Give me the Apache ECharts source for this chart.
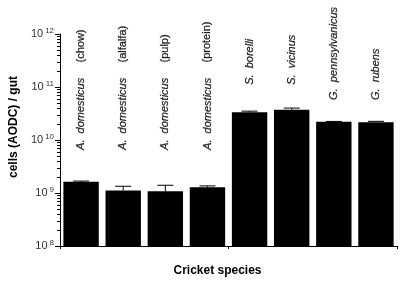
<!DOCTYPE html>
<html>
<head>
<meta charset="utf-8">
<script src="https://cdn.jsdelivr.net/npm/echarts@6/dist/echarts.min.js"></script>
<style>
  html, body { margin: 0; padding: 0; background: #fff; }
  #chart { width: 400px; height: 282px; }
</style>
</head>
<body>
<div id="chart"></div>
<script>
// species shown on the x axis, first part italic, second part (diet) upright
const genus = ['A.', 'A.', 'A.', 'A.', 'S.', 'S.', 'G.', 'G.']
const species = ['domesticus', 'domesticus', 'domesticus', 'domesticus', 'borelli', 'vicinus', 'pennsylvanicus', 'rubens']
const diets = ['(chow)', '(alfalfa)', '(pulp)', '(protein)', '', '', '', '']
// cells per gut (means) and upper error ends
const cells = [1.63e9, 1.12e9, 1.08e9, 1.28e9, 3.33e10, 3.73e10, 2.21e10, 2.16e10]
const errTop = [1.68e9, 1.34e9, 1.40e9, 1.36e9, 3.5e10, 4.0e10, 2.24e10, 2.25e10]
const yTicks = [1e8, 1e9, 1e10, 1e11, 1e12]
const minorMult = [2, 3, 4, 5, 6, 7, 8, 9]

const cats = genus.map((g, i) => g + ' ' + species[i] + ' ' + diets[i])
let minorTicks = []
yTicks.slice(0, -1).forEach(d => minorMult.forEach(m => minorTicks.push(d * m)))

// where the rotated names start, per genus
const labelBase = { 'A.': 6.5e9, 'S.': 1.1e11, 'G.': 5.7e10 }

const font = '"Liberation Sans", Arial, Helvetica, sans-serif'
let myChart = echarts.init(document.getElementById('chart'))
myChart.setOption({
  animation: false,
  grid: { left: 55, right: 3, top: 34, bottom: 36 },
  xAxis: {
    type: 'category',
    data: cats,
    name: 'Cricket species',
    nameLocation: 'middle',
    nameGap: 19,
    nameTextStyle: { fontFamily: font, fontWeight: 'bold', fontSize: 12, color: '#000', padding: [0, 22, 0, 0] },
    axisLine: { lineStyle: { color: '#000', width: 1 } },
    axisTick: { show: true, length: 3, lineStyle: { color: '#000' } },
    axisLabel: { show: false },
    splitLine: { show: false }
  },
  yAxis: {
    type: 'log',
    logBase: 10,
    min: yTicks[0],
    max: yTicks[yTicks.length - 1],
    name: 'cells (AODC) / gut',
    nameLocation: 'middle',
    nameGap: 38,
    nameTextStyle: { fontFamily: font, fontWeight: 'bold', fontSize: 12, color: '#000', padding: [0, 0, 0, 26] },
    axisLine: { show: true, lineStyle: { color: '#000', width: 1 } },
    axisTick: { show: true, length: 5, lineStyle: { color: '#000' } },
    splitLine: { show: false },
    axisLabel: {
      margin: 6,
      formatter: v => '{b|10}{s|' + Math.round(Math.log10(v)) + '}',
      rich: {
        b: { fontFamily: font, fontSize: 11, color: '#333' },
        s: { fontFamily: font, fontSize: 8, color: '#333', verticalAlign: 'bottom', padding: [0, 0, 7, 2] }
      }
    }
  },
  series: [
    {
      type: 'bar',
      data: cells,
      barWidth: '84%',
      itemStyle: { color: '#000' }
    },
    {
      // error bars (upper half only)
      type: 'custom',
      data: cells.map((v, i) => [i, v, errTop[i]]),
      renderItem: function (params, api) {
        const base = api.coord([api.value(0), api.value(1)])
        const top = api.coord([api.value(0), api.value(2)])
        const half = 8
        return {
          type: 'group',
          children: [
            { type: 'line', shape: { x1: base[0], y1: base[1], x2: top[0], y2: top[1] }, style: { stroke: '#000', lineWidth: 1 } },
            { type: 'line', shape: { x1: top[0] - half, y1: top[1], x2: top[0] + half, y2: top[1] }, style: { stroke: '#000', lineWidth: 1 } }
          ]
        }
      },
      z: 3
    },
    {
      // log-spaced minor ticks on the y axis
      type: 'custom',
      clip: false,
      z: 10,
      data: minorTicks.map(v => [0, v]),
      renderItem: function (params, api) {
        const p = api.coord([api.value(0), api.value(1)])
        const x = params.coordSys.x
        return {
          type: 'line',
          shape: { x1: x - 3, y1: Math.round(p[1]) + 0.5, x2: x, y2: Math.round(p[1]) + 0.5 },
          style: { stroke: '#000', lineWidth: 1 }
        }
      }
    },
    {
      type: 'scatter',
      symbolSize: 0,
      data: genus.map((g, i) => [i, labelBase[g]]),
      label: {
        show: true,
        position: 'inside',
        rotate: 90,
        align: 'left',
        verticalAlign: 'middle',
        formatter: p => {
          const i = p.dataIndex
          let s = '{i|' + genus[i] + '  ' + species[i] + '}'
          if (diets[i]) s += '{n|     ' + diets[i] + '}'
          return s
        },
        rich: {
          i: { fontFamily: font, fontStyle: 'italic', fontSize: 11, color: '#000', textBorderColor: '#000', textBorderWidth: 0.3 },
          n: { fontFamily: font, fontSize: 11, color: '#000', textBorderColor: '#000', textBorderWidth: 0.3 }
        }
      }
    }
  ]
})
</script>
</body>
</html>
